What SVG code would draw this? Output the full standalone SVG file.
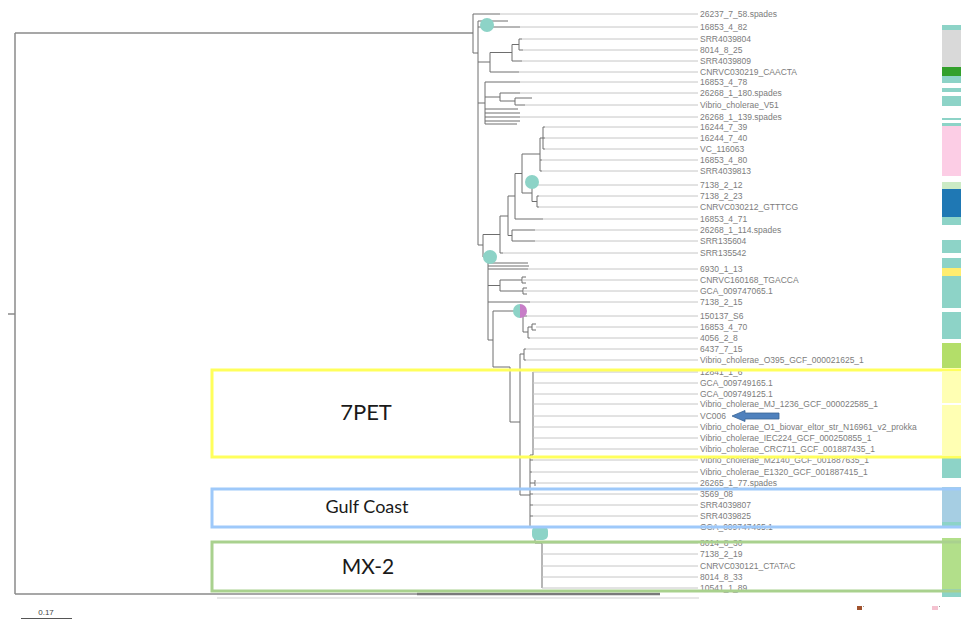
<svg xmlns="http://www.w3.org/2000/svg" width="961" height="620" viewBox="0 0 961 620">
<style>
.br{stroke:#6e6e6e;stroke-width:1;fill:none}
.rt{stroke:#8a8a8a;stroke-width:1.5;fill:none}
.lf{stroke:#c6c6c6;stroke-width:1;fill:none}
.lbl{font-family:"Liberation Sans",Arial,sans-serif;font-size:8.5px;fill:#7c7c7c}
.clade{font-family:Lato,"Open Sans",sans-serif;fill:#1a1a1a;text-anchor:middle}
.box{fill:none;stroke-width:3}
.teal{fill:#8dd3c7}
</style>
<rect width="961" height="620" fill="#ffffff"/>

<!-- colour strip -->
<g id="strip">
<rect x="942" y="25" width="19" height="5" fill="#8dd3c7"/>
<rect x="942" y="30" width="19" height="37" fill="#d9d9d9"/>
<rect x="942" y="67" width="19" height="9" fill="#33a02c"/>
<rect x="942" y="76" width="19" height="7" fill="#8dd3c7"/>
<rect x="942" y="88" width="19" height="4" fill="#8dd3c7"/>
<rect x="942" y="96" width="19" height="10" fill="#8dd3c7"/>
<rect x="942" y="118" width="19" height="2" fill="#8dd3c7"/>
<rect x="942" y="123" width="19" height="3" fill="#8dd3c7"/>
<rect x="942" y="126" width="19" height="50" fill="#fccde5"/>
<rect x="942" y="182" width="19" height="7" fill="#ccebc5"/>
<rect x="942" y="189" width="19" height="28" fill="#1f78b4"/>
<rect x="942" y="217" width="19" height="8" fill="#8dd3c7"/>
<rect x="942" y="240" width="19" height="13" fill="#8dd3c7"/>
<rect x="942" y="258" width="19" height="10" fill="#8dd3c7"/>
<rect x="942" y="268" width="19" height="8" fill="#ffed6f"/>
<rect x="942" y="276" width="19" height="32" fill="#8dd3c7"/>
<rect x="942" y="312" width="19" height="27" fill="#8dd3c7"/>
<rect x="942" y="343" width="19" height="25" fill="#b3de69"/>
<rect x="942" y="372" width="19" height="31" fill="#ffffb3"/>
<rect x="942" y="405" width="19" height="50" fill="#ffffb3"/>
<rect x="942" y="458" width="19" height="20" fill="#8dd3c7"/>
<rect x="942" y="487" width="19" height="35" fill="#a6cee3"/>
<rect x="942" y="522" width="19" height="6" fill="#8dd3c7"/>
<rect x="942" y="538" width="19" height="51" fill="#b2df8a"/>
<rect x="942" y="589" width="19" height="8" fill="#8dd3c7"/>
<rect x="857" y="606" width="5" height="4" fill="#a0522d"/>
<rect x="863" y="606" width="1" height="1" fill="#999"/>
<rect x="932" y="606" width="6" height="4" fill="#f4c2d0"/>
<rect x="939" y="606" width="1" height="1" fill="#999"/>
</g>

<g id="connectors">
<!-- root -->
<path class="rt" d="M15,33 H473 M15,33 V594 M8,314 H15"/>
<path class="rt" d="M15,594 H660"/>
<path d="M417,594 H660" stroke="#7a7a7a" stroke-width="2.5"/>
<path d="M217,598 H699" stroke="#cfcfcf" stroke-width="1"/>
<!-- internal branches -->
<path class="br" d="M473,14 V53 M473,53 H478
M478,21 V245 M478,21 H508 M478,62 H490 M478,103 H485 M478,245 H483
M490,52.5 V72 M490,52.5 H512
M512,44.5 V61 M512,44.5 H519 M519,39 V50
M485,82 V124 M485,97 H500 M485,109 H518 M485,113 H520 M485,121 H520 M485,124 H517
M500,93 V101 M500,101 H515 M515,98 V105 M515,98 H532
M483,234.5 V257 M483,234.5 H500 M483,257 H488
M500,216 V253 M500,216 H508
M508,196 V235.5 M508,196 H515 M508,235.5 H512 M512,230 V241
M515,173.5 V219 M515,173.5 H522
M522,154 V193 M522,154 H540 M522,193 H532
M540,138 V171 M540,138 H543 M543,127 V149
M532,185 V201.5 M532,201.5 H537 M537,196 V207
M488,257 V340 M488,263 H528 M488,266 H529 M488,285.5 H500 M488,340 H493
M500,280 V291 M522,277 V283 M522,277 H526 M522,283 H526 M523,288 V294 M523,288 H527 M523,294 H527
M493,311 V367 M493,311 H523 M493,367 H510
M523,311 V332 M523,332 H528 M528,327 V338
M532,324 V330 M532,324 H536 M532,330 H536
M510,367 V422 M510,422 H520
M520,354 V495 M520,354 H524 M520,495 H530 M524,349 V360
M533,372 V455 M530,455 H533
M530,455 V527 M530,527 H535 V543 H542
M542,543 V588"/>
<!-- terminal branches (dark) -->
<path class="br" d="M473,14 H500 M478,27 H520 M519,39 H522 M519,50 H523 M512,61 H522 M490,72 H519
M485,82 H520 M500,93 H520 M515,105 H525 M485,117 H520
M543,127 H545 M543,138 H545 M543,149 H545 M540,160 H542 M540,171 H542
M532,185 H534 M537,196 H539 M537,207 H539 M515,219 H543 M512,230 H535 M512,241 H535 M500,253 H503
M488,269 H528 M500,280 H522 M500,291 H523 M488,302 H530
M523,316 H527 M528,327 H532 M528,338 H530 M524,349 H526 M524,360 H526
M530,460 H533 M530,472 H532 M530,483 H535 M535,480 V486
M530,494 H533 M530,505 H533 M530,516 H533 M530,527 H533"/>
<!-- alignment lines to labels -->
<path class="lf" d="M500,14 H698 M520,27 H698 M522,39 H698 M523,50 H698 M522,61 H698 M519,72 H698
M520,82 H698 M520,93 H698 M525,105 H698 M520,117 H698
M545,127 H698 M545,138 H698 M545,149 H698 M542,160 H698 M542,171 H698
M534,185 H698 M539,196 H698 M539,207 H698 M543,219 H698 M535,230 H698 M535,241 H698 M503,253 H698
M528,269 H698 M522,280 H698 M523,291 H698 M530,302 H698
M527,316 H698 M536,327 H698 M530,338 H698 M526,349 H698 M526,360 H698
M533,372 H698 M533,383 H698 M533,394 H698 M533,404 H698 M533,416 H698 M533,427 H698 M533,438 H698 M533,449 H698
M533,460 H698 M532,472 H698 M535,483 H698
M533,494 H698 M533,505 H698 M533,516 H698 M533,527 H698
M542,543 H698 M542,554 H698 M542,566 H698 M542,577 H698 M542,588 H698"/>
</g>

<!-- node markers -->
<g id="markers">
<circle class="teal" cx="487" cy="25" r="7"/>
<circle class="teal" cx="532" cy="182" r="7"/>
<circle class="teal" cx="490" cy="257" r="7"/>
<path d="M520,304 A7,7 0 0 0 520,318 Z" fill="#8dd3c7"/>
<path d="M520,304 A7,7 0 0 1 520,318 Z" fill="#c77dc7"/>
<rect class="teal" x="532" y="526" width="16" height="14" rx="5"/>
</g>

<g id="leaves" class="lbl">
<g id="l01"><text x="700" y="17">26237_7_58.spades</text></g>
<g id="l02"><text x="700" y="30">16853_4_82</text></g>
<g id="l03"><text x="700" y="42">SRR4039804</text></g>
<g id="l04"><text x="700" y="53">8014_8_25</text></g>
<g id="l05"><text x="700" y="64">SRR4039809</text></g>
<g id="l06"><text x="700" y="75">CNRVC030219_CAACTA</text></g>
<g id="l07"><text x="700" y="85">16853_4_78</text></g>
<g id="l08"><text x="700" y="96">26268_1_180.spades</text></g>
<g id="l09"><text x="700" y="108">Vibrio_cholerae_V51</text></g>
<g id="l10"><text x="700" y="120">26268_1_139.spades</text></g>
<g id="l11"><text x="700" y="130">16244_7_39</text></g>
<g id="l12"><text x="700" y="141">16244_7_40</text></g>
<g id="l13"><text x="700" y="152">VC_116063</text></g>
<g id="l14"><text x="700" y="163">16853_4_80</text></g>
<g id="l15"><text x="700" y="174">SRR4039813</text></g>
<g id="l16"><text x="700" y="188">7138_2_12</text></g>
<g id="l17"><text x="700" y="199">7138_2_23</text></g>
<g id="l18"><text x="700" y="210">CNRVC030212_GTTTCG</text></g>
<g id="l19"><text x="700" y="222">16853_4_71</text></g>
<g id="l20"><text x="700" y="233">26268_1_114.spades</text></g>
<g id="l21"><text x="700" y="244">SRR135604</text></g>
<g id="l22"><text x="700" y="256">SRR135542</text></g>
<g id="l23"><text x="700" y="272">6930_1_13</text></g>
<g id="l24"><text x="700" y="283">CNRVC160168_TGACCA</text></g>
<g id="l25"><text x="700" y="294">GCA_009747065.1</text></g>
<g id="l26"><text x="700" y="305">7138_2_15</text></g>
<g id="l27"><text x="700" y="319">150137_S6</text></g>
<g id="l28"><text x="700" y="330">16853_4_70</text></g>
<g id="l29"><text x="700" y="341">4056_2_8</text></g>
<g id="l30"><text x="700" y="352">6437_7_15</text></g>
<g id="l31"><text x="700" y="363">Vibrio_cholerae_O395_GCF_000021625_1</text></g>
<g id="l32"><text x="700" y="375">12841_1_6</text></g>
<g id="l33"><text x="700" y="386">GCA_009749165.1</text></g>
<g id="l34"><text x="700" y="397">GCA_009749125.1</text></g>
<g id="l35"><text x="700" y="407">Vibrio_cholerae_MJ_1236_GCF_000022585_1</text></g>
<g id="l36"><text x="700" y="419">VC006</text></g>
<g id="l37"><text x="700" y="430">Vibrio_cholerae_O1_biovar_eltor_str_N16961_v2_prokka</text></g>
<g id="l38"><text x="700" y="441">Vibrio_cholerae_IEC224_GCF_000250855_1</text></g>
<g id="l39"><text x="700" y="452">Vibrio_cholerae_CRC711_GCF_001887435_1</text></g>
<g id="l40"><text x="700" y="463">Vibrio_cholerae_M2140_GCF_001887635_1</text></g>
<g id="l41"><text x="700" y="475">Vibrio_cholerae_E1320_GCF_001887415_1</text></g>
<g id="l42"><text x="700" y="486">26265_1_77.spades</text></g>
<g id="l43"><text x="700" y="497">3569_08</text></g>
<g id="l44"><text x="700" y="508">SRR4039807</text></g>
<g id="l45"><text x="700" y="519">SRR4039825</text></g>
<g id="l46"><text x="700" y="530">GCA_009747465.1</text></g>
<g id="l47"><text x="700" y="546">8014_8_30</text></g>
<g id="l48"><text x="700" y="557">7138_2_19</text></g>
<g id="l49"><text x="700" y="569">CNRVC030121_CTATAC</text></g>
<g id="l50"><text x="700" y="580">8014_8_33</text></g>
<g id="l51"><text x="700" y="591">10541_1_89</text></g>
</g>

<g id="arrow">
<path d="M732,416 L745,410.5 V413 H779 V419 H745 V421.5 Z" fill="#4f81bd" stroke="#3a6496" stroke-width="0.8"/>
</g>

<g id="clade-7PET">
<rect class="box" x="212" y="370" width="760" height="87" stroke="#ffff5c"/>
<text class="clade" x="366" y="420" font-size="22">7PET</text>
</g>
<g id="clade-GulfCoast">
<rect class="box" x="212" y="489" width="760" height="38" stroke="#9ec9fa"/>
<text class="clade" x="367" y="513" font-size="18">Gulf Coast</text>
</g>
<g id="clade-MX2">
<rect class="box" x="212" y="542" width="760" height="49" stroke="#a9d18e"/>
<text class="clade" x="368" y="574" font-size="21">MX-2</text>
</g>

<g id="scale">
<path d="M21,618.5 H72" stroke="#555" stroke-width="1"/>
<text x="46" y="615" font-family="Liberation Sans,Arial,sans-serif" font-size="8" fill="#444" text-anchor="middle">0.17</text>
</g>
</svg>
